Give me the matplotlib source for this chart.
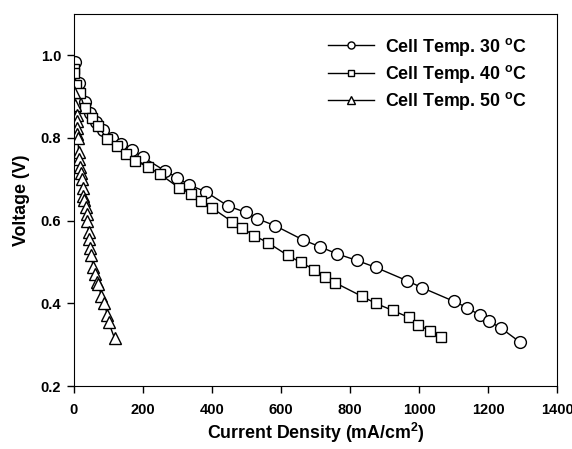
import matplotlib.pyplot as plt

plt.rcParams['font.family'] = ['Liberation Sans', 'DejaVu Sans']
plt.rcParams['font.weight'] = 'bold'

# Cell Temp. 30 C (circles)
x30 = [3, 14, 32, 46, 65, 85, 112, 136, 168, 200, 265, 300, 333, 382, 446, 498,
       531, 583, 663, 713, 762, 820, 875, 965, 1009, 1101, 1139, 1177, 1203, 1238, 1293]
v30 = [0.983, 0.933, 0.887, 0.860, 0.838, 0.820, 0.800, 0.785, 0.771, 0.754, 0.720, 0.704,
       0.687, 0.670, 0.636, 0.620, 0.605, 0.588, 0.554, 0.537, 0.520, 0.504, 0.487, 0.455,
       0.438, 0.405, 0.390, 0.371, 0.357, 0.340, 0.306]

# Cell Temp. 40 C (squares)
x40 = [0, 2, 5, 17, 32, 52, 70, 96, 125, 151, 177, 215, 249, 304, 339, 368, 400, 458,
       487, 522, 562, 620, 658, 696, 727, 757, 835, 875, 924, 971, 997, 1032, 1064]
v40 = [0.968, 0.958, 0.928, 0.908, 0.872, 0.848, 0.830, 0.798, 0.780, 0.761, 0.745, 0.730,
       0.713, 0.680, 0.665, 0.648, 0.631, 0.598, 0.583, 0.564, 0.547, 0.516, 0.499, 0.482,
       0.465, 0.450, 0.417, 0.400, 0.383, 0.366, 0.349, 0.333, 0.318]

# Cell Temp. 50 C (triangles)
x50 = [2, 3, 8, 9, 9, 10, 12, 14, 15, 17, 20, 23, 26, 28, 30, 34, 37, 39, 43, 45, 48,
       51, 56, 61, 68, 71, 79, 88, 97, 101, 118]
v50 = [0.910, 0.880, 0.855, 0.840, 0.824, 0.810, 0.800, 0.765, 0.750, 0.730, 0.716, 0.700,
       0.680, 0.660, 0.650, 0.634, 0.617, 0.600, 0.572, 0.555, 0.535, 0.518, 0.487, 0.470,
       0.453, 0.448, 0.419, 0.402, 0.372, 0.354, 0.316]

labels = ['Cell Temp. 30 $^\\mathregular{o}$C', 'Cell Temp. 40 $^\\mathregular{o}$C',
          'Cell Temp. 50 $^\\mathregular{o}$C']

fig = plt.figure(figsize=(5.72, 4.49), dpi=100)
ax = fig.add_axes([0.129, 0.140, 0.845, 0.829])

style = dict(color='black', lw=1, mfc='white', mec='black', mew=1)
ax.plot(x30, v30, marker='o', ms=8.5, label=labels[0], **style)
ax.plot(x40, v40, marker='s', ms=7.5, label=labels[1], **style)
ax.plot(x50, v50, marker='^', ms=8.5, label=labels[2], **style)

ax.set_xlim(0, 1400)
ax.set_ylim(0.2, 1.1)
ax.set_xticks(range(0, 1401, 200))
ax.set_yticks([0.2, 0.4, 0.6, 0.8, 1.0])
ax.set_yticklabels(['0.2', '0.4', '0.6', '0.8', '1.0'])
ax.tick_params(direction='out', length=5, width=1, labelsize=10.5, pad=4)
ax.tick_params(axis='x', pad=7)
for lab in ax.get_xticklabels() + ax.get_yticklabels():
    lab.set_fontweight('bold')

ax.set_xlabel('Current Density (mA/cm$^\\mathregular{2}$)', fontsize=12.8, fontweight='bold', labelpad=3)
ax.set_ylabel('Voltage (V)', fontsize=12.8, fontweight='bold', labelpad=8)

leg = ax.legend(loc='upper right', frameon=False, fontsize=12.8, markerscale=0.6,
                handlelength=2.6, handletextpad=0.6, labelspacing=0.3,
                bbox_to_anchor=(0.97, 0.985))
for t in leg.get_texts():
    t.set_fontweight('bold')

plt.savefig('out.png', dpi=100)
